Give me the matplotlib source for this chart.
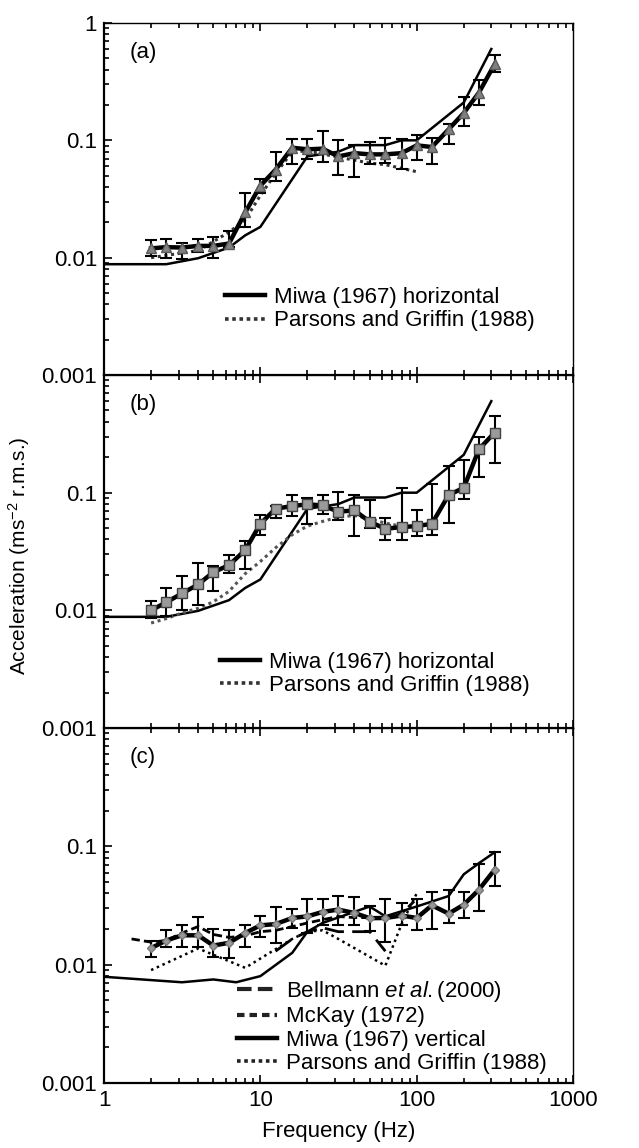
import matplotlib
matplotlib.use('Agg')
import matplotlib.pyplot as plt
from matplotlib.lines import Line2D
from matplotlib.ticker import LogLocator, NullFormatter

plt.rcParams['font.family'] = ['Liberation Sans', 'DejaVu Sans']
plt.rcParams['mathtext.fontset'] = 'custom'
plt.rcParams['mathtext.rm'] = 'Liberation Sans'
plt.rcParams['mathtext.it'] = 'Liberation Sans:italic'

# one-third octave centre frequencies of the measurements
freqs = [2, 2.5, 3.15, 4, 5, 6.3, 8, 10, 12.5, 16, 20, 25, 31.5, 40, 50, 63,
         80, 100, 125, 160, 200, 250, 315]

# (a) thresholds, with upper / lower ends of the error bars
a_mean = [0.0120, 0.0123, 0.0122, 0.0126, 0.0126, 0.0132, 0.0243, 0.0411, 0.0561,
          0.0865, 0.0838, 0.0849, 0.0729, 0.0778, 0.0759, 0.0759, 0.0778, 0.0906,
          0.0877, 0.124, 0.171, 0.255, 0.445]
a_upper = [0.0141, 0.0145, 0.0134, 0.0145, 0.0149, 0.0169, 0.0354, 0.0469, 0.0794,
           0.103, 0.103, 0.120, 0.100, 0.0906, 0.0968, 0.105, 0.102, 0.112, 0.105,
           0.137, 0.235, 0.327, 0.535]
a_lower = [0.0103, 0.0100, 0.0098, 0.0112, 0.0100, 0.0123, 0.0181, 0.0354, 0.0454,
           0.063, 0.0697, 0.066, 0.051, 0.049, 0.063, 0.064, 0.0572, 0.0683, 0.063,
           0.0924, 0.132, 0.200, 0.385]

# (b)
b_mean = [0.0100, 0.0117, 0.0139, 0.0166, 0.0211, 0.0242, 0.0325, 0.0544, 0.073,
          0.077, 0.0796, 0.078, 0.0689, 0.0707, 0.0567, 0.0493, 0.051, 0.052, 0.0544,
          0.0955, 0.110, 0.234, 0.324]
b_upper = [0.0119, 0.0155, 0.0195, 0.0253, 0.024, 0.0294, 0.0387, 0.064, 0.077,
           0.095, 0.0895, 0.095, 0.101, 0.095, 0.0866, 0.0612, 0.110, 0.0707, 0.119,
           0.169, 0.19, 0.30, 0.45]
b_lower = [0.0086, 0.0089, 0.0101, 0.0112, 0.0145, 0.0208, 0.0225, 0.0435, 0.0612,
           0.0632, 0.0537, 0.0655, 0.0585, 0.0428, 0.0504, 0.0395, 0.0395, 0.0428,
           0.0435, 0.0555, 0.0877, 0.137, 0.18]

# (c)
c_mean = [0.0138, 0.016, 0.0177, 0.0177, 0.0145, 0.0153, 0.0185, 0.0215, 0.022,
          0.0248, 0.0256, 0.0279, 0.0292, 0.0273, 0.0247, 0.0248, 0.026, 0.0248,
          0.0317, 0.027, 0.0321, 0.043, 0.0635]
c_upper = [0.0157, 0.0198, 0.0215, 0.0251, 0.020, 0.0195, 0.0215, 0.0256, 0.0305,
           0.0297, 0.0359, 0.0359, 0.0383, 0.037, 0.0311, 0.0361, 0.0332, 0.0359,
           0.0408, 0.043, 0.0411, 0.071, 0.089]
c_lower = [0.0117, 0.0141, 0.0141, 0.0141, 0.0117, 0.0114, 0.0141, 0.0171, 0.0152,
           0.0204, 0.0185, 0.0218, 0.0218, 0.0218, 0.0191, 0.0156, 0.0215, 0.0195,
           0.0201, 0.0225, 0.0248, 0.0282, 0.0466]

# literature curves
miwa_h_f = [1, 2.5, 4, 6.3, 8, 10, 20, 31.5, 40, 63, 80, 100, 200, 300]
miwa_h = [0.0088, 0.0088, 0.0099, 0.0122, 0.0155, 0.0183, 0.073, 0.08, 0.091, 0.091,
          0.1, 0.1, 0.21, 0.6]

miwa_v_f = [1, 3.15, 5, 7, 10, 16, 20, 25, 50, 63, 100, 160, 200, 250, 315]
miwa_v = [0.0079, 0.0071, 0.0075, 0.0071, 0.0080, 0.0126, 0.019, 0.0225, 0.031,
          0.0256, 0.031, 0.038, 0.058, 0.072, 0.089]

par_a_f = [2, 4, 6.3, 8, 10, 12.5, 16, 20, 31.5, 50, 63, 100]
par_a = [0.010, 0.0115, 0.0165, 0.021, 0.034, 0.052, 0.08, 0.081, 0.072, 0.064,
         0.062, 0.054]

par_b_f = [2, 2.5, 3.15, 4, 5, 6.3, 8, 10, 12.5, 16, 20, 25, 31.5, 40, 50, 63, 80]
par_b = [0.0078, 0.0085, 0.0095, 0.0104, 0.0118, 0.0145, 0.0205, 0.026, 0.034,
         0.044, 0.052, 0.057, 0.062, 0.064, 0.060, 0.055, 0.052]

par_c_f = [2, 4, 8, 12.5, 16, 20, 25, 31.5, 63, 80, 100]
par_c = [0.0090, 0.0137, 0.0094, 0.0135, 0.0165, 0.019, 0.0195, 0.0165, 0.0098,
         0.022, 0.040]

mckay_f = [1.5, 2, 2.5, 3.15, 4, 5, 6.3, 8, 10, 12.5, 16, 20, 25, 31.5, 40, 50, 63,
           80, 100]
mckay = [0.0165, 0.0155, 0.016, 0.0185, 0.021, 0.018, 0.017, 0.0175, 0.019, 0.0195,
         0.021, 0.0225, 0.024, 0.0255, 0.025, 0.025, 0.025, 0.027, 0.036]

bell_f = [12.5, 16, 20, 25, 31.5, 40, 50, 63]
bell = [0.013, 0.0165, 0.019, 0.0205, 0.019, 0.019, 0.019, 0.013]

FS = 16

fig = plt.figure(figsize=(6.39, 11.48), dpi=100)
ax_a = fig.add_axes([0.1628, 0.6733, 0.734, 0.3067])
ax_b = fig.add_axes([0.1628, 0.3659, 0.734, 0.3074])
ax_c = fig.add_axes([0.1628, 0.0566, 0.734, 0.3093])


def setup(ax, yticks, ylabels, bottom_labels):
    ax.set_xscale('log')
    ax.set_yscale('log')
    ax.set_xlim(1, 1000)
    ax.set_ylim(0.001, 1)
    ax.set_yticks(yticks)
    ax.set_yticklabels(ylabels)
    ax.yaxis.set_minor_locator(LogLocator(base=10, subs=range(2, 10)))
    ax.yaxis.set_minor_formatter(NullFormatter())
    ax.xaxis.set_minor_locator(LogLocator(base=10, subs=range(2, 10)))
    ax.xaxis.set_minor_formatter(NullFormatter())
    ax.set_xticks([1, 10, 100, 1000])
    if bottom_labels:
        ax.set_xticklabels(['1', '10', '100', '1000'])
    else:
        ax.set_xticklabels([])
    ax.tick_params(which='both', direction='in', top=True, right=False,
                   labelsize=FS, width=1.2)
    ax.tick_params(which='major', length=6, pad=5)
    ax.tick_params(which='minor', length=3.5)
    for side in ['left', 'bottom']:
        ax.spines[side].set_linewidth(1.6)
    for side in ['right', 'top']:
        ax.spines[side].set_linewidth(1.0)


def thresholds(ax, mean, lower, upper, marker, ms, mfc, mec):
    err = [[m - lo for m, lo in zip(mean, lower)], [hi - m for m, hi in zip(mean, upper)]]
    ax.errorbar(freqs, mean, yerr=err, fmt='none', ecolor='black', elinewidth=1.5,
                capsize=4.5, capthick=1.5, zorder=3)
    ax.plot(freqs, mean, color='black', lw=3.2, marker=marker, ms=ms, mfc=mfc,
            mec=mec, mew=1.0, zorder=4)


setup(ax_a, [0.001, 0.01, 0.1, 1], ['0.001', '0.01', '0.1', '1'], False)
setup(ax_b, [0.001, 0.01, 0.1], ['0.001', '0.01', '0.1'], False)
setup(ax_c, [0.001, 0.01, 0.1], ['0.001', '0.01', '0.1'], True)

# panel (a)
ax_a.plot(miwa_h_f, miwa_h, color='black', lw=1.8, zorder=2)
ax_a.plot(par_a_f, par_a, color='#333333', lw=2.2, ls=(0, (1, 1.2)), zorder=2)
thresholds(ax_a, a_mean, a_lower, a_upper, '^', 7.5, '#808080', '#5a5a5a')

# panel (b)
ax_b.plot(miwa_h_f, miwa_h, color='black', lw=1.8, zorder=2)
ax_b.plot(par_b_f, par_b, color='#555555', lw=2.2, ls=(0, (1, 1.2)), zorder=2)
thresholds(ax_b, b_mean, b_lower, b_upper, 's', 7, '#9a9a9a', '#404040')

# panel (c)
ax_c.plot(miwa_v_f, miwa_v, color='black', lw=1.8, zorder=2)
ax_c.plot(par_c_f, par_c, color='black', lw=1.8, ls=(0, (1, 1.5)), zorder=2)
ax_c.plot(mckay_f, mckay, color='black', lw=2.0, ls=(0, (3, 1.5)), zorder=2)
ax_c.plot(bell_f, bell, color='black', lw=2.0, ls=(0, (7, 3)), zorder=2)
thresholds(ax_c, c_mean, c_lower, c_upper, 'D', 4.5, '#999999', '#777777')

for ax, lab in [(ax_a, '(a)'), (ax_b, '(b)'), (ax_c, '(c)')]:
    ax.text(0.055, 0.945, lab, transform=ax.transAxes, fontsize=FS, va='top', ha='left')

leg_kw = dict(frameon=False, fontsize=FS, handlelength=1.8, handletextpad=0.4,
              labelspacing=0.1, borderpad=0, borderaxespad=0, loc='center left')

h_miwa = Line2D([], [], color='black', lw=3.2)
h_par = Line2D([], [], color='#333333', lw=2.6, ls=(0, (1, 1)))
ax_a.legend([h_miwa, h_par], ['Miwa (1967) horizontal', 'Parsons and Griffin (1988)'],
            bbox_to_anchor=(0.258, 0.187), **leg_kw)
ax_b.legend([h_miwa, h_par], ['Miwa (1967) horizontal', 'Parsons and Griffin (1988)'],
            bbox_to_anchor=(0.247, 0.153), **leg_kw)

h_bell = Line2D([], [], color='#222222', lw=3.0, ls=(0, (3.5, 1.5)))
h_mck = Line2D([], [], color='#222222', lw=3.0, ls=(0, (1.8, 1.2)))
h_miwav = Line2D([], [], color='black', lw=3.2)
h_parc = Line2D([], [], color='#222222', lw=2.6, ls=(0, (1, 1)))
ax_c.legend([h_bell, h_mck, h_miwav, h_parc],
            ['Bellmann $\\it{et\\ al.}$(2000)', 'McKay (1972)', 'Miwa (1967) vertical',
             'Parsons and Griffin (1988)'],
            bbox_to_anchor=(0.284, 0.159), **leg_kw)

ax_c.set_xlabel('Frequency (Hz)', fontsize=FS, labelpad=7)
fig.text(0.03, 0.516, 'Acceleration (ms$^{-2}$ r.m.s.)', rotation=90, fontsize=15,
         ha='center', va='center')

fig.savefig('out.png', dpi=100)
